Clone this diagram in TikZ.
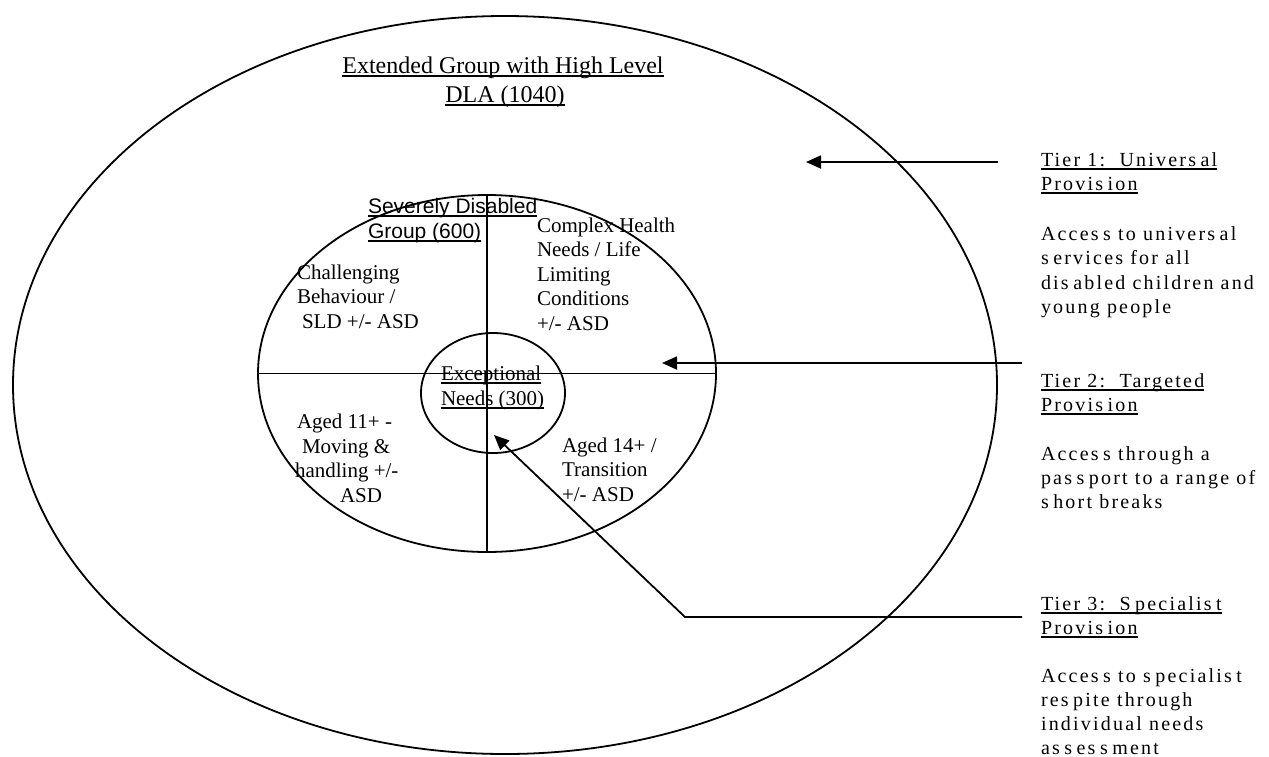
\documentclass[tikz,border=0pt]{standalone}
\usepackage{fontspec}
\setmainfont{Liberation Serif}
\newfontfamily\tierfont[LetterSpace=11]{Liberation Serif}
\newfontfamily\arialfont{Liberation Sans}
\usetikzlibrary{shapes.geometric,arrows.meta}
\newsavebox\ulbox
\newcommand\ul[1]{\sbox\ulbox{#1}\leavevmode\rlap{\rule[-4pt]{\wd\ulbox}{1.8pt}}\usebox\ulbox}
\newcommand\sg{\kern4.5pt}
\begin{document}
\begin{tikzpicture}[x=1pt,y=-1pt,
  line/.style={line width=1.8pt},
  arr/.style={line width=1.8pt,-{Triangle[length=15pt,width=13pt]}},
  ring/.style={draw,ellipse,line width=1.8pt,inner sep=0pt,outer sep=0pt},
  tl/.style={anchor=base west,inner sep=0pt,outer sep=0pt,font=\fontsize{21}{24}\selectfont},
  ttl/.style={anchor=base,inner sep=0pt,outer sep=0pt,font=\fontsize{24}{28}\selectfont},
  sv/.style={anchor=base west,inner sep=0pt,outer sep=0pt,font=\arialfont\fontsize{21}{24}\selectfont},
  tr/.style={anchor=base west,inner sep=0pt,outer sep=0pt,font=\tierfont\fontsize{20}{24}\selectfont},
]
\useasboundingbox (0,0) rectangle (1269,756);
\fill[white] (0,0) rectangle (1269,756);

% ellipses
\node[ring,minimum width=984pt,minimum height=738pt] (outer) at (505,385) {};
\node[ring,minimum width=458pt,minimum height=357pt] (mid) at (487,373.5) {};
\node[ring,minimum width=144pt,minimum height=120pt] (inner) at (493,393) {};
\draw[line] (mid.north) -- (mid.south);
\draw[line] (mid.west) -- (mid.east);

% title
\node[ttl] (ext1) at (503,73) {\ul{Extended Group with High Level}};
\node[ttl] (ext2) at (505,102) {\ul{DLA (1040)}};

% severely disabled
\node[sv] (sev1) at (368,213) {\ul{Severely Disabled}};
\node[sv] (sev2) at (368,238) {\ul{Group (600)}};

% quadrants
\node[tl] (ch1) at (297,279) {Challenging};
\node[tl] (ch2) at (297,303) {Behaviour /};
\node[tl] (ch3) at (302,328) {SLD +/- ASD};

\node[tl] (cx1) at (537,232) {Complex Health};
\node[tl] (cx2) at (537,256) {Needs / Life};
\node[tl] (cx3) at (537,281) {Limiting};
\node[tl] (cx4) at (537,305) {Conditions};
\node[tl] (cx5) at (537,330) {+/- ASD};

\node[tl] (ex1) at (441,380) {\ul{Exceptional}};
\node[tl] (ex2) at (441,405) {\ul{Needs (300)}};

\node[tl] (ag1) at (297,428) {Aged 11+ -};
\node[tl] (ag2) at (302,453) {Moving \&};
\node[tl] (ag3) at (295,477) {handling +/-};
\node[tl] (ag4) at (340,502) {ASD};

\node[tl] (af1) at (562,452) {Aged 14+ /};
\node[tl] (af2) at (562,476) {Transition};
\node[tl] (af3) at (562,501) {+/- ASD};

% tier texts
\node[tr] (t1a) at (1041,166) {\ul{Tier 1:\ \ Univers\sg al}};
\node[tr] (t1b) at (1041,190) {\ul{Provis\sg ion}};
\node[tr] (t1c) at (1041,240) {Acces\sg s to univers\sg al};
\node[tr] (t1d) at (1041,264.5) {s\sg ervices for all};
\node[tr] (t1e) at (1041,289) {dis\sg abled children and};
\node[tr] (t1f) at (1041,313) {young people};

\node[tr] (t2a) at (1041,387) {\ul{Tier 2:\ \ Targeted}};
\node[tr] (t2b) at (1041,411) {\ul{Provis\sg ion}};
\node[tr] (t2c) at (1041,460) {Acces\sg s through a};
\node[tr] (t2d) at (1041,484) {pas\sg s\sg port to a range of};
\node[tr] (t2e) at (1041,508) {s\sg hort breaks};

\node[tr] (t3a) at (1041,610) {\ul{Tier 3:\ \ S\sg pecialis\sg t}};
\node[tr] (t3b) at (1041,634) {\ul{Provis\sg ion}};
\node[tr] (t3c) at (1041,682) {Acces\sg s to s\sg pecialis\sg t};
\node[tr] (t3d) at (1041,706) {res\sg pite through};
\node[tr] (t3e) at (1041,730) {individual needs};
\node[tr] (t3f) at (1041,754) {as\sg s\sg es\sg s\sg ment};

% arrows
\coordinate (a1s) at (998,162);
\coordinate (a1e) at (806,162);
\coordinate (a2s) at (1022,363);
\coordinate (a2e) at (662,363);
\coordinate (a3s) at (1022,617);
\coordinate (a3k) at (685,617);
\coordinate (a3e) at (494,435);
\draw[arr] (a1s) -- (a1e);
\draw[arr] (a2s) -- (a2e);
\draw[arr] (a3s) -- (a3k) -- (a3e);
\end{tikzpicture}
\end{document}
